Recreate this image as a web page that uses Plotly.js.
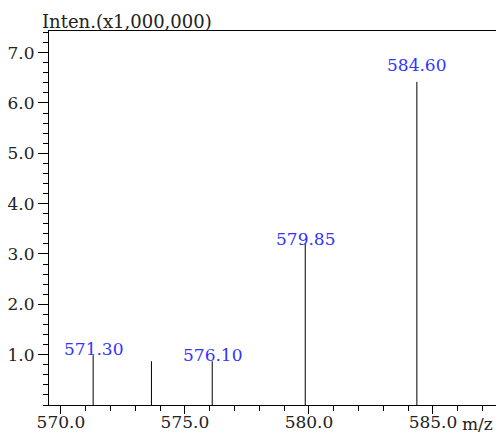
<!DOCTYPE html>
<html><head><meta charset="utf-8">
<script src="https://cdn.plot.ly/plotly-3.0.1.min.js"></script>
<style>html,body{margin:0;padding:0;background:#fff;}</style>
</head><body><div id="chart" style="width:496px;height:433px;"></div>
<script>
// peak positions (m/z) and intensities (x1,000,000)
const peakMz = [571.30, 573.65, 576.10, 579.85, 584.35];
const peakIntensity = [0.99, 0.87, 0.87, 3.22, 6.42];
const peakLabels = ["571.30", "", "576.10", "579.85", "584.60"];
const xTickVals = [570, 575, 580, 585];
const xTickText = ["570.0", "575.0", "580.0", "585.0"];
const yTickVals = [1, 2, 3, 4, 5, 6, 7];
const yTickText = ["1.0", "2.0", "3.0", "4.0", "5.0", "6.0", "7.0"];
const yTitle = "Inten.(x1,000,000)";
const xTitle = "m/z";

// label pixel offsets (styling only)
const labelShift = [-6, 0, -6, -8, 5];

const FONT = "DejaVu Serif, Liberation Serif, serif";

const xs = [], ys = [];
peakMz.forEach((m, i) => { xs.push(m, m, null); ys.push(0, peakIntensity[i], null); });

const trace = {
  x: xs, y: ys, type: "scatter", mode: "lines",
  line: {color: "#000", width: 1}, hoverinfo: "skip", showlegend: false
};

const annotations = [];
peakLabels.forEach((t, i) => {
  if (!t) return;
  annotations.push({
    x: peakMz[i], y: peakIntensity[i], xref: "x", yref: "y",
    text: t, showarrow: false, xanchor: "center", yanchor: "bottom", yshift: labelShift[i],
    font: {family: FONT, size: 17, color: "#3333ff"}
  });
});
annotations.push({
  xref: "paper", yref: "paper", x: -0.02, y: 1, xanchor: "left", yanchor: "bottom",
  text: yTitle, showarrow: false, yshift: -3,
  font: {family: FONT, size: 18, color: "#222"}
});
annotations.push({
  xref: "paper", yref: "paper", x: 1, y: 0, xanchor: "right", yanchor: "top",
  text: xTitle, showarrow: false, yshift: -7, xshift: -1,
  font: {family: FONT, size: 17, color: "#222"}
});

const layout = {
  width: 496, height: 433,
  margin: {l: 49, r: 0, t: 31, b: 28, pad: 0},
  paper_bgcolor: "#fff", plot_bgcolor: "#fff",
  showlegend: false,
  xaxis: {
    range: [569.52, 587.54], showgrid: false, zeroline: false,
    showline: true, linecolor: "#000", linewidth: 1, mirror: true,
    tickmode: "array", tickvals: xTickVals, ticktext: xTickText,
    ticks: "outside", ticklen: 8, tickcolor: "#000", tickwidth: 1,
    ticklabelstandoff: -6,
    minor: {dtick: 1, ticks: "outside", ticklen: 5, tickcolor: "#000", tickwidth: 1, showgrid: false},
    tickfont: {family: FONT, size: 17, color: "#222"}
  },
  yaxis: {
    range: [0, 7.43], showgrid: false, zeroline: false,
    showline: true, linecolor: "#000", linewidth: 1,
    tickmode: "array", tickvals: yTickVals, ticktext: yTickText,
    ticks: "outside", ticklen: 10, tickcolor: "#000", tickwidth: 1,
    minor: {dtick: 0.2, ticks: "outside", ticklen: 5, tickcolor: "#000", tickwidth: 1, showgrid: false},
    tickfont: {family: FONT, size: 17, color: "#222"}
  },
  annotations: annotations
};

Plotly.newPlot("chart", [trace], layout, {staticPlot: true, displayModeBar: false});
</script></body></html>
